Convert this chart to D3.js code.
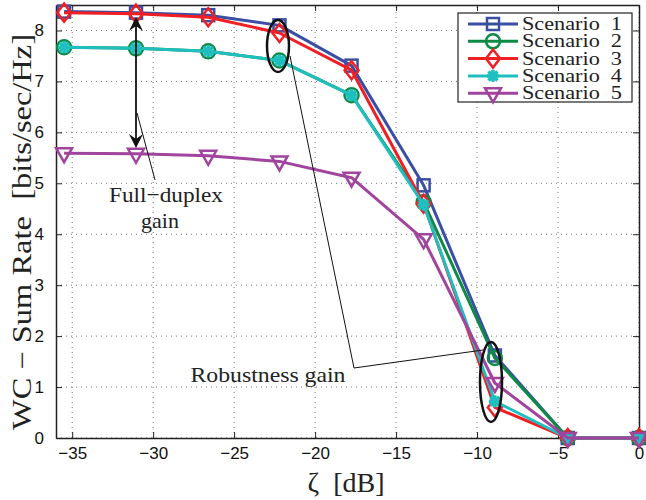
<!DOCTYPE html>
<html>
<head>
<meta charset="utf-8">
<script src="https://cdn.jsdelivr.net/npm/d3@7"></script>
<style>
  body { margin: 0; background: #fff; }
  svg { display: block; }
</style>
</head>
<body>
<div id="chart"></div>
<script>
(function () {
    // Data
    const zeta = [-35.5, -31.06, -26.6, -22.2, -17.75, -13.3, -8.9, -4.4, 0];
    const scenario1 = [8.37, 8.35, 8.3, 8.1, 7.31, 4.96, 1.62, 0, 0];
    const scenario2 = [7.67, 7.65, 7.59, 7.41, 6.73, 4.63, 1.57, 0, 0];
    const scenario3 = [8.35, 8.33, 8.26, 7.95, 7.22, 4.6, 0.6, 0, 0];
    const scenario4 = [7.67, 7.65, 7.59, 7.41, 6.73, 4.58, 0.72, 0, 0];
    const scenario5 = [5.59, 5.58, 5.54, 5.43, 5.11, 3.9, 1.08, 0, 0];
    const seriesNames = ["Scenario 1", "Scenario 2", "Scenario 3", "Scenario 4", "Scenario 5"];
    const xTicks = [-35, -30, -25, -20, -15, -10, -5, 0];
    const yTicks = [0, 1, 2, 3, 4, 5, 6, 7, 8];

    const series = [
        { name: seriesNames[0], values: scenario1, color: "#3a4fa3", marker: "square" },
        { name: seriesNames[1], values: scenario2, color: "#0e8a46", marker: "circle" },
        { name: seriesNames[2], values: scenario3, color: "#ee2025", marker: "diamond" },
        { name: seriesNames[3], values: scenario4, color: "#1fbfbf", marker: "star" },
        { name: seriesNames[4], values: scenario5, color: "#a0449e", marker: "triangle" }
    ];

    const W = 646, H = 500;
    const left = 56, right = 639, top = 5, bottom = 438;

    const svg = d3.select("#chart").append("svg")
        .attr("width", W).attr("height", H);

    const x = d3.scaleLinear().domain([-36, 0]).range([left, right]);
    const y = d3.scaleLinear().domain([0, 8.5]).range([bottom, top]);

    // Grid (dotted)
    const grid = svg.append("g").attr("stroke", "#777").attr("stroke-width", 1)
        .attr("stroke-dasharray", "1,4");
    xTicks.forEach(t => {
        grid.append("line").attr("x1", x(t)).attr("x2", x(t))
            .attr("y1", bottom).attr("y2", top);
    });
    yTicks.forEach(t => {
        grid.append("line").attr("x1", left).attr("x2", right)
            .attr("y1", y(t)).attr("y2", y(t));
    });

    // Axes with inward ticks (MATLAB style)
    const tickFmt = d => d < 0 ? "\u2212" + Math.abs(d) : "" + d;
    const xAxis = svg.append("g").attr("transform", `translate(0,${bottom})`)
        .call(d3.axisBottom(x).tickValues(xTicks).tickSizeInner(-6).tickSizeOuter(0)
            .tickPadding(14).tickFormat(tickFmt));
    const xAxisTop = svg.append("g").attr("transform", `translate(0,${top})`)
        .call(d3.axisTop(x).tickValues(xTicks).tickSizeInner(-6).tickSizeOuter(0)
            .tickFormat(""));
    const yAxis = svg.append("g").attr("transform", `translate(${left},0)`)
        .call(d3.axisLeft(y).tickValues(yTicks).tickSizeInner(-6).tickSizeOuter(0)
            .tickPadding(12).tickFormat(tickFmt));
    const yAxisRight = svg.append("g").attr("transform", `translate(${right},0)`)
        .call(d3.axisRight(y).tickValues(yTicks).tickSizeInner(-6).tickSizeOuter(0)
            .tickFormat(""));

    [xAxis, xAxisTop, yAxis, yAxisRight].forEach(g => {
        g.select(".domain").attr("stroke", "#222").attr("stroke-width", 1.5);
        g.selectAll(".tick line").attr("stroke", "#222");
        g.selectAll("text").attr("font-family", "Liberation Sans, Arial, sans-serif")
            .attr("font-size", 17).attr("fill", "#111");
    });
    xAxis.selectAll("text").attr("dy", "0.4em");

    // Marker drawing
    function drawMarker(g, type, color, cx, cy) {
        const m = g.append("g").attr("transform", `translate(${cx},${cy})`)
            .attr("fill", "none").attr("stroke", color).attr("stroke-width", 2.5);
        if (type === "square") {
            m.append("rect").attr("x", -6).attr("y", -6).attr("width", 12).attr("height", 12);
        } else if (type === "circle") {
            m.append("circle").attr("r", 7);
        } else if (type === "diamond") {
            m.append("path").attr("d", "M0,-9L7,0L0,9L-7,0Z");
        } else if (type === "star") {
            m.attr("stroke-width", 3.5);
            [[-6, 0, 6, 0], [0, -6, 0, 6], [-4.5, -4.5, 4.5, 4.5], [-4.5, 4.5, 4.5, -4.5]]
                .forEach(l => m.append("line").attr("x1", l[0]).attr("y1", l[1])
                    .attr("x2", l[2]).attr("y2", l[3]));
        } else if (type === "triangle") {
            m.append("path").attr("d", "M-8,-5L8,-5L0,9Z");
        }
    }

    const line = d3.line().x((d, i) => x(zeta[i])).y(d => y(d));
    const plot = svg.append("g");
    series.forEach(s => {
        const g = plot.append("g");
        g.append("path").datum(s.values)
            .attr("fill", "none").attr("stroke", s.color).attr("stroke-width", 3)
            .attr("stroke-linejoin", "round").attr("d", line);
        s.values.forEach((v, i) => drawMarker(g, s.marker, s.color, x(zeta[i]), y(v)));
    });

    // Annotations
    const ann = svg.append("g").attr("stroke", "#111").attr("fill", "none");
    // full-duplex double arrow
    const ax = x(zeta[1]);
    ann.append("line").attr("x1", ax).attr("x2", ax).attr("y1", 22).attr("y2", 143)
        .attr("stroke-width", 1.8);
    ann.append("path").attr("d", `M${ax},17L${ax - 7},31L${ax},26L${ax + 7},31Z`)
        .attr("fill", "#111").attr("stroke", "none");
    ann.append("path").attr("d", `M${ax},148L${ax - 7},134L${ax},139L${ax + 7},134Z`)
        .attr("fill", "#111").attr("stroke", "none");
    ann.append("line").attr("x1", 137).attr("y1", 113).attr("x2", 155).attr("y2", 180)
        .attr("stroke-width", 1);

    // robustness ellipses and leader lines
    ann.append("ellipse").attr("cx", 278).attr("cy", 46).attr("rx", 11).attr("ry", 26)
        .attr("stroke-width", 2.5);
    ann.append("ellipse").attr("cx", 491).attr("cy", 382).attr("rx", 11).attr("ry", 40)
        .attr("stroke-width", 2.5);
    ann.append("polyline").attr("points", "290,56 354,368 483,350").attr("stroke-width", 1);

    const serif = "Liberation Serif, Times New Roman, serif";
    svg.append("text").attr("x", 166).attr("y", 202).attr("text-anchor", "middle")
        .attr("font-family", serif).attr("font-size", 22).attr("fill", "#222")
        .attr("textLength", 114).attr("lengthAdjust", "spacingAndGlyphs")
        .text("Full\u2212duplex");
    svg.append("text").attr("x", 160).attr("y", 228).attr("text-anchor", "middle")
        .attr("font-family", serif).attr("font-size", 22).attr("fill", "#222")
        .text("gain");
    svg.append("text").attr("x", 268).attr("y", 382).attr("text-anchor", "middle")
        .attr("font-family", serif).attr("font-size", 22).attr("fill", "#222")
        .attr("textLength", 155).attr("lengthAdjust", "spacingAndGlyphs")
        .text("Robustness gain");

    // Axis labels
    svg.append("text").attr("transform", "translate(31,232) rotate(-90)")
        .attr("text-anchor", "middle").attr("font-family", serif).attr("font-size", 27)
        .attr("fill", "#222").attr("xml:space", "preserve")
        .attr("textLength", 396).attr("lengthAdjust", "spacingAndGlyphs")
        .text("WC \u2212 Sum Rate  [bits/sec/Hz]");
    svg.append("text").attr("x", 346).attr("y", 492).attr("text-anchor", "middle")
        .attr("font-family", serif).attr("font-size", 28).attr("fill", "#222")
        .attr("xml:space", "preserve")
        .text("\u03B6  [dB]");

    // Legend
    const lg = svg.append("g");
    lg.append("rect").attr("x", 458).attr("y", 13).attr("width", 174).attr("height", 89)
        .attr("fill", "#fff").attr("stroke", "#222").attr("stroke-width", 1.2);
    series.forEach((s, i) => {
        const cy = 24 + i * 17.3;
        lg.append("line").attr("x1", 468).attr("x2", 518).attr("y1", cy).attr("y2", cy)
            .attr("stroke", s.color).attr("stroke-width", 3);
        drawMarker(lg, s.marker, s.color, 493, cy);
        lg.append("text").attr("x", 522).attr("y", cy + 6)
            .attr("font-family", serif).attr("font-size", 19).attr("fill", "#222")
            .attr("xml:space", "preserve")
            .attr("textLength", 100).attr("lengthAdjust", "spacingAndGlyphs")
            .text(s.name.replace(" ", "  "));
    });
})();
</script>
</body>
</html>
